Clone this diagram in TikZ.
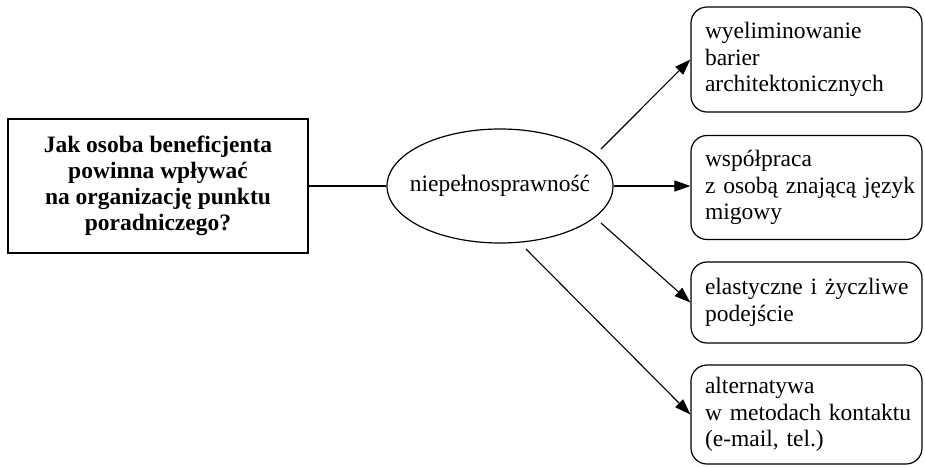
\documentclass[tikz,border=0pt]{standalone}
\usepackage{fontspec}
\setmainfont{Liberation Serif}
\usetikzlibrary{shapes.geometric,arrows.meta}
\tikzset{
  txt/.style={font=\fontsize{23.5}{26.5}\selectfont},
  qbox/.style={draw, line width=1.3pt, rectangle, minimum width=300pt, minimum height=134pt, align=center, font=\fontsize{23.5}{26}\selectfont\bfseries},
  ell/.style={draw, line width=1.2pt, ellipse, minimum width=226pt, minimum height=114pt, inner sep=0pt, txt},
  rbox/.style={draw, line width=1.2pt, rectangle, rounded corners=16pt, text width=203pt, inner xsep=14pt, inner ysep=0pt, align=left, txt},
  conn/.style={line width=1.1pt},
  arr/.style={conn, -{Triangle[length=16pt,width=11pt]}}
}
\begin{document}
\begin{tikzpicture}[x=1pt,y=-1pt]
\useasboundingbox (0,0) rectangle (925,467);
\node[qbox] (q) at (158,186) {Jak osoba beneficjenta\\powinna wpływać\\na organizację punktu\\poradniczego?};
\node[ell] (e) at (500,186) {\makebox[0pt]{niepełnosprawność}};
\node[rbox, minimum height=105pt] (b1) at (806.5,59.5) {\mbox{wyeliminowanie}\\\mbox{barier}\\\mbox{architektonicznych}};
\node[rbox, minimum height=104pt] (b2) at (806.5,187.5) {\mbox{współpraca}\\\mbox{z osobą znającą język}\\\mbox{migowy}};
\node[rbox, minimum height=81pt] (b3) at (806.5,302.5) {\mbox{elastyczne i życzliwe}\\\mbox{podejście}};
\node[rbox, minimum height=99pt] (b4) at (806.5,414.5) {\mbox{alternatywa}\\\mbox{w metodach kontaktu}\\\mbox{(e-mail, tel.)}};
\coordinate (s1) at (601,149);
\coordinate (s3) at (601,223);
\coordinate (s4) at (526,249);
\draw[conn] (q.east) -- (e.west);
\draw[arr] (s1) -- (b1.west);
\draw[arr] (e.east) -- (e.east -| b2.west);
\draw[arr] (s3) -- (b3.west);
\draw[arr] (s4) -- (b4.west);
\end{tikzpicture}
\end{document}
